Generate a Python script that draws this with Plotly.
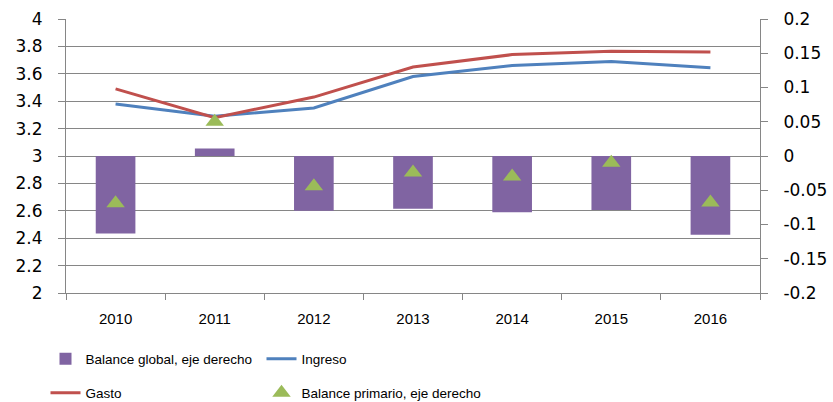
import plotly.graph_objects as go

# data
years = ["2010", "2011", "2012", "2013", "2014", "2015", "2016"]
balance_global = [-0.113, 0.011, -0.080, -0.077, -0.082, -0.079, -0.115]
ingreso = [3.38, 3.29, 3.35, 3.58, 3.66, 3.69, 3.645]
gasto = [3.49, 3.28, 3.43, 3.65, 3.74, 3.765, 3.76]
balance_primario = [-0.069, 0.050, -0.044, -0.024, -0.030, -0.010, -0.068]

left_ticks = [2, 2.2, 2.4, 2.6, 2.8, 3, 3.2, 3.4, 3.6, 3.8, 4]
left_labels = ["2", "2.2", "2.4", "2.6", "2.8", "3", "3.2", "3.4", "3.6", "3.8", "4"]
right_ticks = [-0.2, -0.15, -0.1, -0.05, 0, 0.05, 0.1, 0.15, 0.2]
right_labels = ["-0.2", "-0.15", "-0.1", "-0.05", "0", "0.05", "0.1", "0.15", "0.2"]

AXIS_GREY = "#868686"
TEXT_FONT = "Liberation Sans, Arial, sans-serif"
WIDE = "DejaVu Sans, Verdana, sans-serif"

fig = go.Figure()

fig.add_trace(go.Bar(
    x=years, y=balance_global, yaxis="y2",
    name="Balance global, eje derecho",
    marker=dict(color="#8064A2", line=dict(width=0)),
    width=0.4, legend="legend",
))
fig.add_trace(go.Scatter(
    x=years, y=ingreso, mode="lines", name="Ingreso",
    line=dict(color="#4F81BD", width=3), legend="legend2",
))
fig.add_trace(go.Scatter(
    x=years, y=gasto, mode="lines", name="Gasto",
    line=dict(color="#C0504D", width=3), legend="legend3",
))
fig.add_trace(go.Scatter(
    x=years, y=balance_primario, yaxis="y2", mode="markers",
    name="Balance primario, eje derecho",
    marker=dict(symbol="triangle-up", size=16, color="#9BBB59"),
    legend="legend4",
))

legend_style = dict(
    orientation="h",
    xref="container", yref="container",
    xanchor="left", yanchor="middle",
    font=dict(family=TEXT_FONT, size=13.5, color="#000000"),
    bgcolor="rgba(0,0,0,0)",
)
W, H = 833, 402
col1, col2 = 45.5 / W, 261.5 / W
row1, row2 = 1 - 359 / H, 1 - 393 / H

fig.update_layout(
    width=W, height=H,
    margin=dict(l=66, r=73, t=19, b=109, autoexpand=False),
    plot_bgcolor="white",
    paper_bgcolor="white",
    showlegend=True,
    xaxis=dict(
        type="category",
        showline=True, linecolor=AXIS_GREY, linewidth=1,
        ticks="outside", tickson="boundaries", ticklen=6, tickcolor=AXIS_GREY,
        ticklabelstandoff=12,
        tickfont=dict(family=TEXT_FONT, size=15, color="#000000"),
        showgrid=False,
    ),
    yaxis=dict(
        range=[2, 4],
        tickvals=left_ticks, ticktext=left_labels,
        showline=True, linecolor=AXIS_GREY, linewidth=1,
        ticks="outside", ticklen=7, tickcolor=AXIS_GREY,
        ticklabelstandoff=12,
        showgrid=True, gridcolor=AXIS_GREY, gridwidth=1,
        zeroline=False,
        tickfont=dict(family=WIDE, size=17, color="#000000"),
    ),
    yaxis2=dict(
        range=[-0.2, 0.2],
        overlaying="y", side="right",
        tickvals=right_ticks, ticktext=right_labels,
        showline=True, linecolor=AXIS_GREY, linewidth=1,
        ticks="outside", ticklen=7, tickcolor=AXIS_GREY,
        ticklabelstandoff=12,
        showgrid=False, zeroline=False,
        tickfont=dict(family=WIDE, size=17, color="#000000"),
    ),
    legend=dict(x=col1, y=row1, **legend_style),
    legend2=dict(x=col2, y=row1, **legend_style),
    legend3=dict(x=col1, y=row2, **legend_style),
    legend4=dict(x=col2, y=row2, **legend_style),
)

# drop the default page margin so the figure sits at the window's corner
fig.write_html(
    "out.html",
    config={"displayModeBar": False},
    post_script="document.body.style.margin='0';",
)
